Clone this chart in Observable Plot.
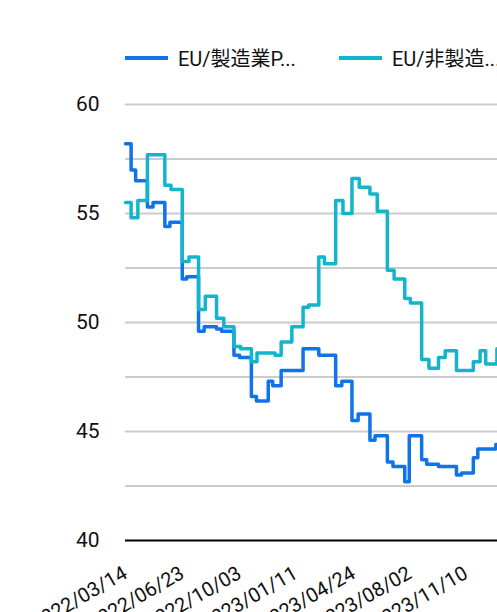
<!DOCTYPE html>
<html>
<head>
<meta charset="utf-8">
<script src="https://cdn.jsdelivr.net/npm/d3@7"></script>
<script src="https://cdn.jsdelivr.net/npm/@observablehq/plot@0.6"></script>
<style>
  html, body { margin: 0; padding: 0; background: #fff; overflow: hidden; width: 497px; height: 612px; }
  #legend { position: relative; height: 80px; font-family: Roboto, "Noto Sans CJK JP", sans-serif; font-size: 20px; color: #111; }
  #legend .sw { position: absolute; top: 56px; width: 43px; height: 4px; }
  #legend .lb { position: absolute; top: 47px; line-height: 24px; white-space: nowrap; }
  #chart svg { display: block; overflow: visible; }
</style>
</head>
<body>
<div id="legend"></div>
<div id="chart"></div>
<script>
const seriesNames = ["EU/製造業P...", "EU/非製造..."];
const seriesColors = ["#0f74e9", "#12b5cb"];

const mfgDates = [
  "2022-03-14","2022-03-24","2022-04-01","2022-04-22","2022-05-02","2022-05-23","2022-06-01","2022-06-23",
  "2022-07-01","2022-07-22","2022-08-01","2022-08-23","2022-09-01","2022-09-23","2022-10-03","2022-10-24",
  "2022-11-02","2022-11-23","2022-12-01","2022-12-16","2023-01-02","2023-01-24","2023-02-01","2023-02-21",
  "2023-03-01","2023-03-23","2023-04-03","2023-04-21","2023-05-02","2023-05-23","2023-06-01","2023-06-23",
  "2023-07-03","2023-07-24","2023-08-01","2023-08-23","2023-09-01","2023-09-22","2023-10-02","2023-10-24",
  "2023-11-02","2023-11-23","2023-12-01","2023-12-15","2024-01-02","2024-01-05"
];
const mfgValues = [
  58.2, 57.0, 56.5, 55.3, 55.5, 54.4, 54.6, 52.0,
  52.1, 49.6, 49.8, 49.7, 49.6, 48.5, 48.4, 46.6,
  46.4, 47.3, 47.1, 47.8, 47.8, 48.8, 48.8, 48.5,
  48.5, 47.1, 47.3, 45.5, 45.8, 44.6, 44.8, 43.6,
  43.4, 42.7, 44.8, 43.7, 43.5, 43.4, 43.4, 43.0,
  43.1, 43.8, 44.2, 44.2, 44.4, 44.4
];

const svcDates = [
  "2022-03-14","2022-03-24","2022-04-05","2022-04-22","2022-05-05","2022-05-23","2022-06-03","2022-06-23",
  "2022-07-05","2022-07-22","2022-08-03","2022-08-23","2022-09-05","2022-09-23","2022-10-05","2022-10-24",
  "2022-11-03","2022-11-23","2022-12-05","2022-12-16","2023-01-04","2023-01-24","2023-02-03","2023-02-21",
  "2023-03-03","2023-03-23","2023-04-05","2023-04-21","2023-05-04","2023-05-23","2023-06-05","2023-06-23",
  "2023-07-05","2023-07-24","2023-08-03","2023-08-23","2023-09-05","2023-09-22","2023-10-04","2023-10-24",
  "2023-11-06","2023-11-23","2023-12-05","2023-12-15","2024-01-04","2024-01-05"
];
const svcValues = [
  55.5, 54.8, 55.6, 57.7, 57.7, 56.3, 56.1, 52.8,
  53.0, 50.6, 51.2, 50.2, 49.8, 48.9, 48.8, 48.2,
  48.6, 48.6, 48.5, 49.1, 49.8, 50.7, 50.8, 53.0,
  52.7, 55.6, 55.0, 56.6, 56.2, 55.9, 55.1, 52.4,
  52.0, 51.1, 50.9, 48.3, 47.9, 48.4, 48.7, 47.8,
  47.8, 48.2, 48.7, 48.1, 48.8, 48.8
];

const xDomain = ["2022-03-14", "2024-01-05"];
const xTickLabels = ["2022/03/14","2022/06/23","2022/10/03","2023/01/11","2023/04/24","2023/08/02","2023/11/10"];
const yTicks = [40, 45, 50, 55, 60];
const yGrid = [42.5, 45, 47.5, 50, 52.5, 55, 57.5, 60];

const parse = d3.utcParse("%Y-%m-%d");
const mfg = mfgDates.map((d, i) => ({date: parse(d), value: mfgValues[i]}));
const svc = svcDates.map((d, i) => ({date: parse(d), value: svcValues[i]}));
const xTicks = xTickLabels.map(s => d3.utcParse("%Y/%m/%d")(s));

// legend
const legend = document.getElementById("legend");
const legendX = [[125, 178], [339, 392]];
seriesNames.forEach((name, i) => {
  const sw = document.createElement("span");
  sw.className = "sw";
  sw.style.left = legendX[i][0] + "px";
  sw.style.background = seriesColors[i];
  legend.appendChild(sw);
  const lb = document.createElement("span");
  lb.className = "lb";
  lb.style.left = legendX[i][1] + "px";
  lb.textContent = name;
  legend.appendChild(lb);
});

const chart = Plot.plot({
  width: 497,
  height: 532,
  marginTop: 24,
  marginBottom: 72,
  marginLeft: 125,
  marginRight: 0,
  style: {fontFamily: "Roboto, sans-serif", color: "#111", background: "#fff"},
  x: {type: "utc", domain: xDomain.map(parse)},
  y: {domain: [40, 60]},
  marks: [
    Plot.ruleY(yGrid, {stroke: "#cccccc", strokeWidth: 2}),
    Plot.ruleY([40], {stroke: "#000", strokeWidth: 2}),
    Plot.axisY({ticks: yTicks, tickSize: 0, tickPadding: 26, fontSize: 21, label: null, tickFormat: d => String(d)}),
    Plot.axisX({ticks: xTicks, tickFormat: d3.utcFormat("%Y/%m/%d"), tickRotate: -30, tickSize: 0, tickPadding: 31, fontSize: 20, label: null}),
    Plot.line(mfg, {x: "date", y: "value", curve: "step-after", stroke: seriesColors[0], strokeWidth: 3.5}),
    Plot.line(svc, {x: "date", y: "value", curve: "step-after", stroke: seriesColors[1], strokeWidth: 3.5})
  ]
});
document.getElementById("chart").appendChild(chart);
</script>
</body>
</html>
